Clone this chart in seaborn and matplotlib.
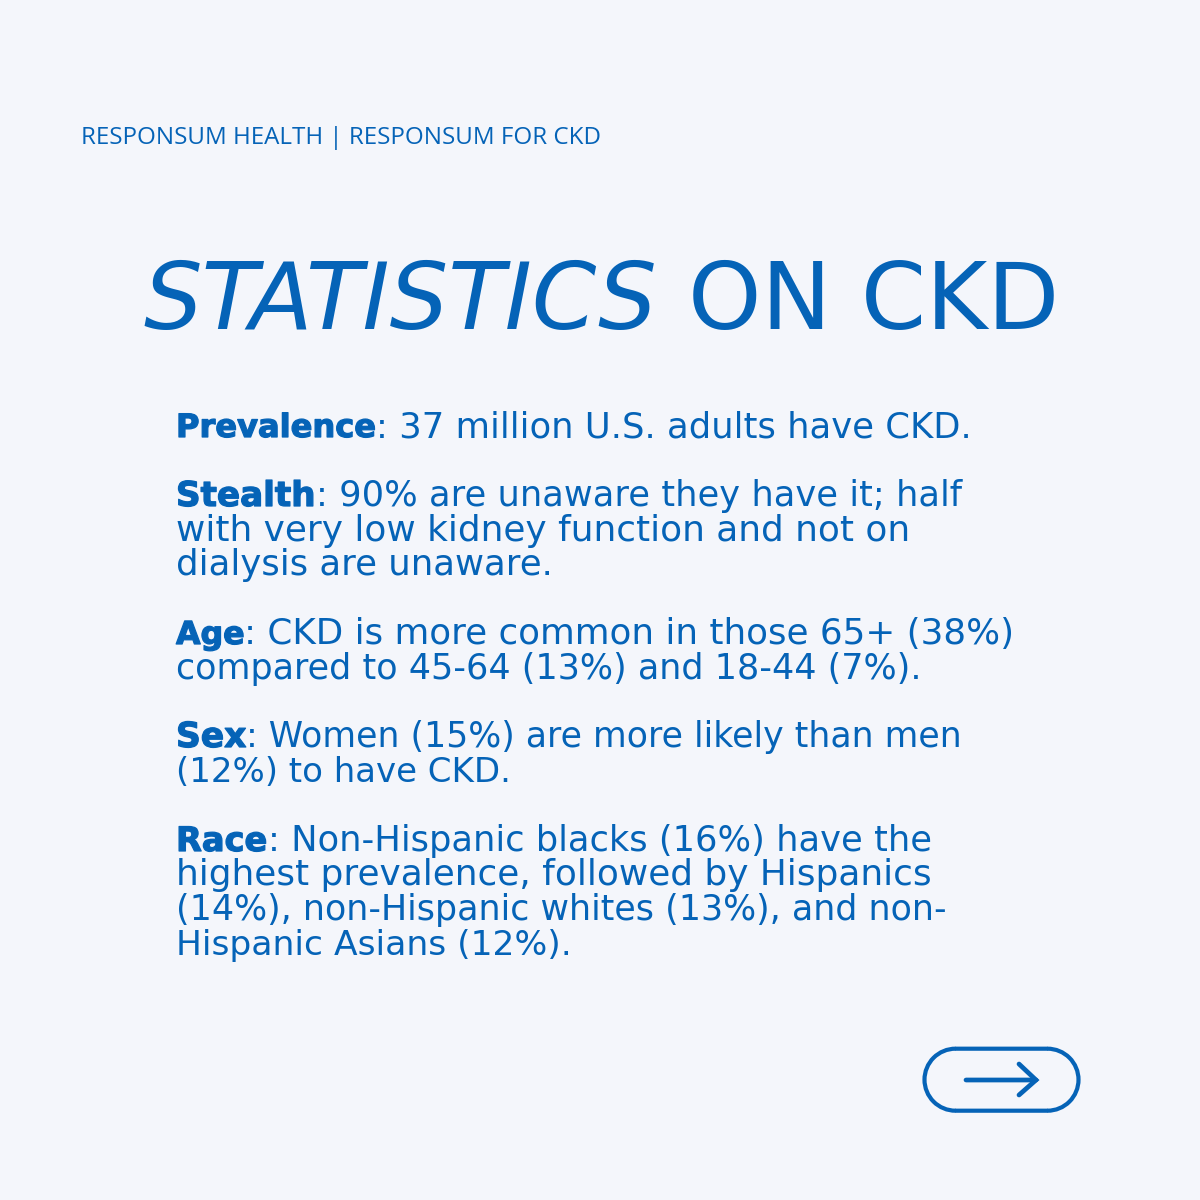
import matplotlib
matplotlib.use("Agg")
import matplotlib.pyplot as plt
import matplotlib.patheffects as pe
from matplotlib.patches import Arc
import seaborn as sns

BLUE = "#0563B7"
BG = "#F4F6FB"
sns.set_theme(style="white", rc={"figure.facecolor": BG, "axes.facecolor": BG})

header = "RESPONSUM HEALTH | RESPONSUM FOR CKD"
title_italic = "STATISTICS"
title_plain = "ON CKD"

leads = ["Prevalence", "Stealth", "Age", "Sex", "Race"]
lead_sizes = [23.1, 24.6, 22.8, 24.8, 24.2]
first_lines = [
    ": 37 million U.S. adults have CKD.",
    ": 90% are unaware they have it; half",
    ": CKD is more common in those 65+ (38%)",
    ": Women (15%) are more likely than men",
    ": Non-Hispanic blacks (16%) have the",
]
first_sizes = [25.5, 25.4, 25.75, 25.0, 25.4]
more_lines = [
    [],
    ["with very low kidney function and not on", "dialysis are unaware."],
    ["compared to 45-64 (13%) and 18-44 (7%)."],
    ["(12%) to have CKD."],
    ["highest prevalence, followed by Hispanics",
     "(14%), non-Hispanic whites (13%), and non-",
     "Hispanic Asians (12%)."],
]
more_sizes = [[], [25.8, 25.6], [25.2], [24.5], [25.8, 25.1, 24.8]]
section_baselines = [437, 506, 644, 747, 851]
line_step = 34.5

fig = plt.figure(figsize=(12, 12), dpi=100)
ax = fig.add_axes([0, 0, 1, 1])
ax.set_xlim(0, 1200)
ax.set_ylim(1200, 0)
ax.axis("off")
renderer = fig.canvas.get_renderer()

ax.text(81, 144, header, color=BLUE, fontsize=17.4, family="Open Sans", va="baseline")

ax.text(143, 329, title_italic, color=BLUE, fontsize=66.5, family="DejaVu Sans",
        style="oblique", va="baseline")
ax.text(688, 329, title_plain, color=BLUE, fontsize=67.2, family="DejaVu Sans",
        va="baseline")

for lead, lsize, first, fsize, more, msizes, y in zip(
        leads, lead_sizes, first_lines, first_sizes, more_lines, more_sizes, section_baselines):
    t = ax.text(176, y, lead, color=BLUE, fontsize=lsize, family="DejaVu Sans",
                weight="bold", va="baseline",
                path_effects=[pe.Stroke(linewidth=0.9, foreground=BLUE)])
    x_end = t.get_window_extent(renderer).x1
    ax.text(x_end, y, first, color=BLUE, fontsize=fsize, family="DejaVu Sans", va="baseline")
    for i, (line, size) in enumerate(zip(more, msizes), start=1):
        ax.text(176, y + i * line_step, line, color=BLUE, fontsize=size,
                family="DejaVu Sans", va="baseline")

# pill outline with the arrow
pill_lw = 3.0
ax.add_patch(Arc((955.5, 1079.7), 62, 62, theta1=90, theta2=270, ec=BLUE, lw=pill_lw))
ax.add_patch(Arc((1047.5, 1079.7), 62, 62, theta1=270, theta2=90, ec=BLUE, lw=pill_lw))
ax.plot([955, 1048], [1048.7, 1048.7], color=BLUE, lw=pill_lw, snap=False, solid_capstyle="butt")
ax.plot([955, 1048], [1110.7, 1110.7], color=BLUE, lw=pill_lw, snap=False, solid_capstyle="butt")
ax.plot([966, 1036], [1080, 1080], color=BLUE, lw=3.4, solid_capstyle="round", snap=False)
ax.plot([1019, 1036, 1019], [1064, 1080, 1095], color=BLUE, lw=3.4, snap=False,
        solid_capstyle="round", solid_joinstyle="miter")

fig.savefig("out.png", dpi=100, facecolor=BG)
